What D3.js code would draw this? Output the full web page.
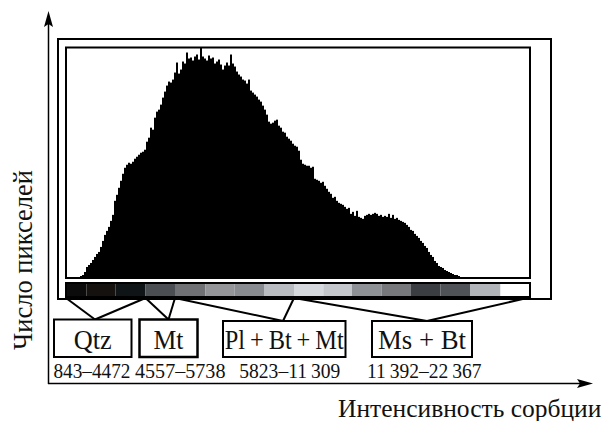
<!DOCTYPE html>
<html>
<head>
<meta charset="utf-8">
<script src="https://cdn.jsdelivr.net/npm/d3@7"></script>
<style>
body{margin:0;background:#fff;}
svg{display:block;}
</style>
</head>
<body>
<svg width="612" height="421"></svg>
<script>
// histogram: number of pixels in each intensity bin
var binCount = 232;
var counts = [0,0,0,0,0,1,1,2,3,6,
    11,13,15,18,21,24,26,31,37,43,
    47,51,57,63,77,83,90,97,104,110,
    113,115,114,116,119,121,123,125,126,128,
    136,140,150,148,160,166,168,173,180,186,
    192,196,195,198,205,215,204,208,216,214,
    225,219,220,217,221,223,218,230,221,219,
    217,222,219,220,214,216,218,213,208,212,
    215,212,223,214,211,206,203,201,198,197,
    194,198,187,185,183,181,178,176,172,168,
    163,156,154,155,157,158,152,150,146,145,
    141,139,137,134,132,131,127,118,114,113,
    112,112,110,111,99,98,97,95,96,92,
    89,86,84,80,81,77,75,74,73,71,
    69,70,64,66,62,67,61,60,59,62,
    63,64,63,64,65,64,62,63,61,62,
    61,64,60,63,59,60,58,57,56,55,
    53,51,48,47,44,42,40,37,35,32,
    30,26,23,21,17,15,12,11,10,8,
    7,6,5,4,3,3,2,1,1];
var yMax = 230;

// grey strip under the histogram (cell edges in bin units)
var cellEdges = [0, 10.25, 24.7, 39.75, 54.5, 69.75, 84.35, 99, 114, 128.65, 143, 157.85, 172.25, 187.25, 202, 217.25, 232];
var cellColors = ["#0b0b0b", "#15110f", "#0f1417", "#4b4e53", "#6f7175", "#939599", "#888b8f", "#b9bcc0",
    "#d6d9dd", "#c4c7cb", "#8e9195", "#76787c", "#3a3d41", "#4f5257", "#b1b4b8", "#ffffff"];

// mineral groups and their sorption ranges
var minerals = ["Qtz", "Mt", "Pl\u2009+\u2009Bt\u2009+\u2009Mt", "Ms + Bt"];
var ranges = ["843\u20134472", "4557\u20135738", "5823\u201311\u2009309", "11\u2009392\u201322\u2009367"];
var groupEdges = [[0, 39.75], [39.75, 54.5], [54.5, 114], [114, 230.5]];

// layout of the label boxes
var boxX = [[54, 131.5], [139.5, 197.5], [223, 345.5], [372, 472]];
var boxTop = [319.5, 319.5, 321, 321];
var apexX = [95, 168.5, 283, 427];
var nameLen = [38, 30, 119, 88];
var rangeX = [53.5, 135, 239.3, 367];
var rangeLen = [77, 90.5, 101, 114.5];

var svg = d3.select("svg");

// squeeze a text horizontally so it spans the given width
function addText(parent, str, tx, ty, size, width, anchor, rot){
    var t = parent.append("text")
        .style("font-family", "'Liberation Serif'")
        .style("font-size", size + "px")
        .attr("fill", "#111")
        .attr("text-anchor", anchor || "start")
        .text(str);
    var w = t.node().getComputedTextLength();
    var sx = (width && w > 0) ? width / w : 1;
    t.attr("transform", "translate(" + tx + "," + ty + ")" + (rot ? " rotate(" + rot + ")" : "") + " scale(" + sx + ",1)");
    return t;
}

var x = d3.scaleLinear().domain([0, binCount]).range([66, 530]);
var y = d3.scaleLinear().domain([0, yMax]).range([278, 47.5]);

// outer frame
svg.append("rect")
    .attr("x", 58).attr("y", 39)
    .attr("width", 493).attr("height", 260)
    .attr("fill", "none").attr("stroke", "#000").attr("stroke-width", 2);

// histogram bars
svg.append("g")
    .selectAll("rect")
    .data(counts)
    .enter()
    .append("rect")
    .attr("x", function(d, i){ return x(i); })
    .attr("y", function(d){ return y(d); })
    .attr("width", x(1) - x(0))
    .attr("height", function(d){ return y(0) - y(d); })
    .attr("fill", "#000");

svg.append("rect")
    .attr("x", x(0)).attr("y", y(yMax))
    .attr("width", x(binCount) - x(0)).attr("height", y(0) - y(yMax))
    .attr("fill", "none").attr("stroke", "#000").attr("stroke-width", 2);

// grey scale strip
svg.append("g")
    .selectAll("rect")
    .data(cellColors)
    .enter()
    .append("rect")
    .attr("x", function(d, i){ return x(cellEdges[i]); })
    .attr("y", 283)
    .attr("width", function(d, i){ return x(cellEdges[i + 1]) - x(cellEdges[i]); })
    .attr("height", 14)
    .attr("fill", function(d){ return d; });

svg.append("rect")
    .attr("x", x(0)).attr("y", 283)
    .attr("width", x(binCount) - x(0)).attr("height", 14)
    .attr("fill", "none").attr("stroke", "#000").attr("stroke-width", 2);

// connectors from the strip to the boxes
var links = svg.append("g").attr("stroke", "#000").attr("stroke-width", 2);
groupEdges.forEach(function(g, i){
    links.append("line")
        .attr("x1", x(g[0])).attr("y1", 298)
        .attr("x2", apexX[i]).attr("y2", boxTop[i]);
    links.append("line")
        .attr("x1", x(g[1])).attr("y1", 298)
        .attr("x2", apexX[i]).attr("y2", boxTop[i]);
});

// label boxes
var boxes = svg.append("g");
minerals.forEach(function(m, i){
    boxes.append("rect")
        .attr("x", boxX[i][0])
        .attr("y", boxTop[i])
        .attr("width", boxX[i][1] - boxX[i][0])
        .attr("height", 357 - boxTop[i])
        .attr("fill", "#fff").attr("stroke", "#000")
        .attr("stroke-width", i == 1 ? 2.5 : 2);
    addText(boxes, m, (boxX[i][0] + boxX[i][1]) / 2, 348.5, 27, nameLen[i], "middle");
});

var nums = svg.append("g");
ranges.forEach(function(r, i){
    addText(nums, r, rangeX[i], 377.7, 21, rangeLen[i]);
});

// axes with arrows
svg.append("line")
    .attr("x1", 48.5).attr("y1", 384).attr("x2", 48.5).attr("y2", 20)
    .attr("stroke", "#000").attr("stroke-width", 1.5);
svg.append("line")
    .attr("x1", 48).attr("y1", 383.5).attr("x2", 585).attr("y2", 383.5)
    .attr("stroke", "#000").attr("stroke-width", 1.5);
svg.append("path")
    .attr("d", "M48.5,11 L53,27 L48.5,24 L44,27 Z")
    .attr("fill", "#000");
svg.append("path")
    .attr("d", "M593,383.5 L577,379 L580,383.5 L577,388 Z")
    .attr("fill", "#000");

addText(svg, "Интенсивность сорбции", 338, 416.5, 25.5, null);
addText(svg, "Число пикселей", 32, 260, 27, 180, "middle", -90);
</script>
</body>
</html>
